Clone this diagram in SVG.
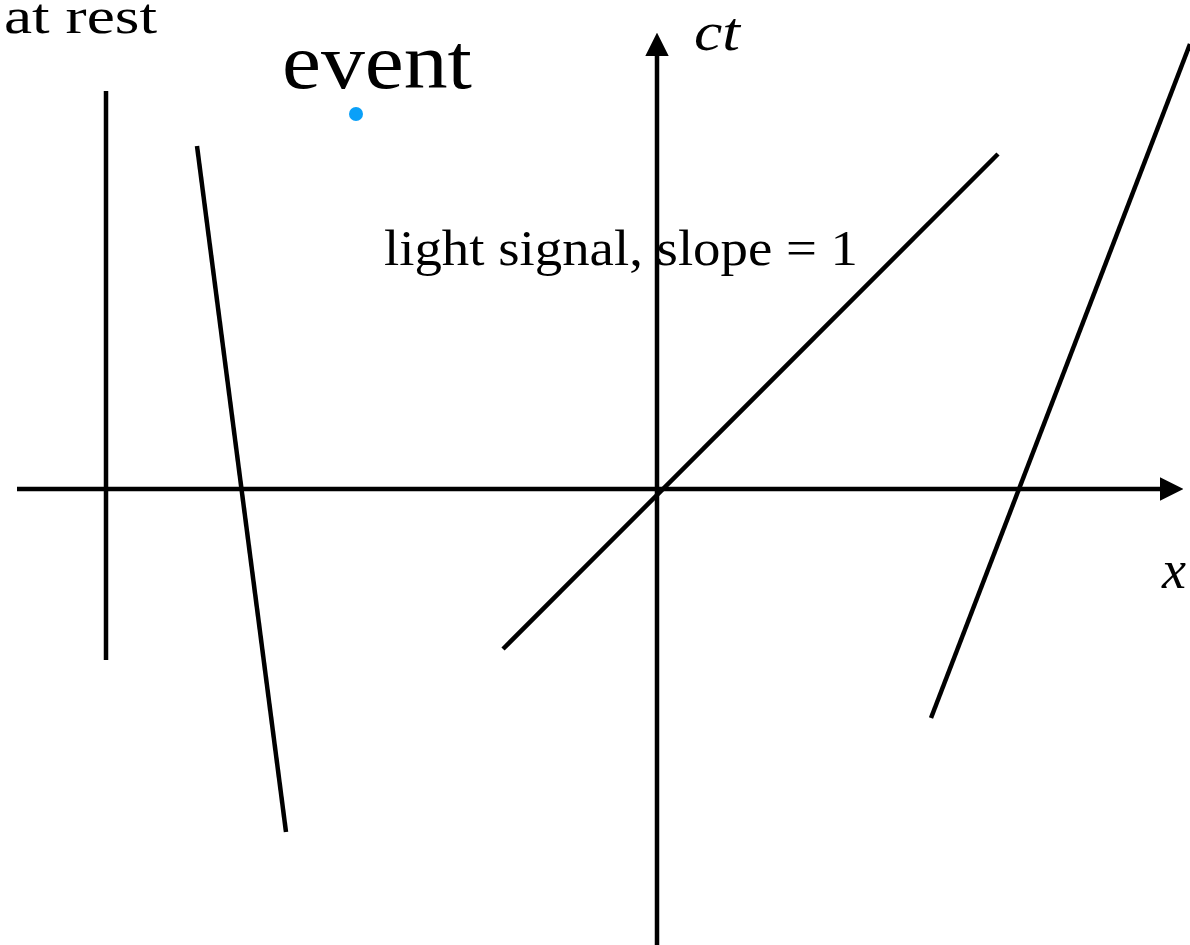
<svg xmlns="http://www.w3.org/2000/svg" width="1190" height="945" viewBox="0 0 1190 945">
<style>
.ln{stroke:#000;stroke-width:4.5;fill:none}
.t{font-family:"Liberation Serif",serif;fill:#000}
.i{font-style:italic}
</style>
<defs>
<marker id="ah" viewBox="0 0 10 10" refX="0" refY="5" markerWidth="5.2" markerHeight="6.2" markerUnits="strokeWidth" orient="auto"><path d="M0,0L10,5L0,10z" fill="#000"/></marker>
</defs>
<rect width="1190" height="945" fill="#fff"/>
<g id="connectors">
<line class="ln" x1="17" y1="489" x2="1160" y2="489" marker-end="url(#ah)"/>
<line class="ln" x1="657" y1="945" x2="657" y2="56" marker-end="url(#ah)"/>
<line class="ln" x1="106" y1="91" x2="106" y2="660"/>
<line class="ln" x1="197" y1="146" x2="286" y2="832"/>
<line class="ln" x1="503" y1="649" x2="998" y2="154"/>
<line class="ln" x1="931" y1="718" x2="1190" y2="44"/>
</g>
<g id="event"><circle cx="356" cy="114" r="7" fill="#0aa0f8"/><text class="t" x="282" y="88" font-size="78" textLength="190" lengthAdjust="spacingAndGlyphs">event</text></g>
<g id="atrest"><text class="t" x="4" y="33" font-size="50" textLength="153" lengthAdjust="spacingAndGlyphs">at rest</text></g>
<g id="ct"><text class="t i" x="694" y="50" font-size="54" textLength="46" lengthAdjust="spacingAndGlyphs">ct</text></g>
<g id="x"><text class="t i" x="1162" y="588" font-size="54">x</text></g>
<g id="light"><text class="t" x="384" y="265" font-size="50" textLength="474" lengthAdjust="spacingAndGlyphs">light signal, slope = 1</text></g>
</svg>
